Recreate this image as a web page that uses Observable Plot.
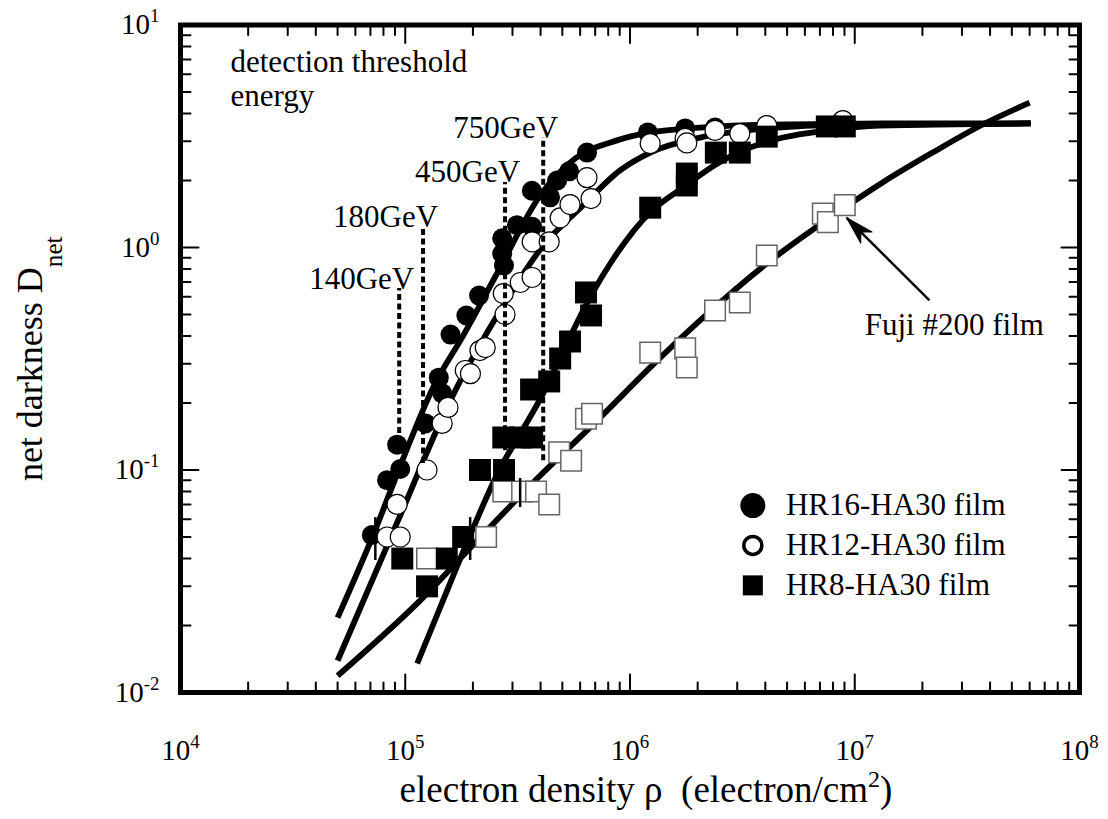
<!DOCTYPE html>
<html>
<head>
<meta charset="utf-8">
<script src="https://cdn.jsdelivr.net/npm/d3@7"></script>
<script src="https://cdn.jsdelivr.net/npm/@observablehq/plot@0.6"></script>
<style>
  html, body { margin: 0; padding: 0; background: #fff; }
  #chart svg { display: block; }
</style>
</head>
<body>
<div id="chart"></div>
<script>
// ---------- data (electron density ρ, net darkness D) ----------
const hr16 = [ // HR16-HA30 film, filled circles
  [7.1e4,0.051],[8.3e4,0.090],[9.2e4,0.130],[9.5e4,0.101],[1.23e5,0.162],[1.41e5,0.26],
  [1.46e5,0.221],[1.59e5,0.406],[1.87e5,0.495],[2.13e5,0.608],[2.70e5,1.10],[2.70e5,0.94],
  [2.75e5,0.83],[3.14e5,1.26],[3.67e5,1.24],[3.66e5,1.80],[4.41e5,1.68],[4.74e5,2.00],
  [5.36e5,2.20],[6.44e5,2.67],[1.20e6,3.29],[1.76e6,3.43],[2.39e6,3.46]
];
const hr12 = [ // HR12-HA30 film, open circles
  [8.3e4,0.050],[9.5e4,0.050],[9.2e4,0.070],[1.25e5,0.100],[1.46e5,0.162],[1.55e5,0.191],
  [1.85e5,0.280],[1.95e5,0.271],[2.15e5,0.344],[2.27e5,0.355],[2.73e5,0.621],[2.78e5,0.500],
  [3.25e5,0.696],[3.67e5,0.733],[3.67e5,1.06],[4.37e5,1.06],[4.89e5,1.36],[5.41e5,1.56],
  [6.44e5,2.06],[6.71e5,1.66],[1.23e6,2.93],[1.76e6,3.09],[1.79e6,2.95],[2.39e6,3.36],
  [3.08e6,3.25],[4.06e6,3.53],[8.85e6,3.72]
];
const hr8 = [ // HR8-HA30 film, filled squares
  [9.7e4,0.040],[1.25e5,0.030],[1.53e5,0.040],[1.81e5,0.050],[2.15e5,0.100],[2.75e5,0.100],
  [2.73e5,0.140],[3.25e5,0.140],[3.67e5,0.140],[3.63e5,0.230],[4.37e5,0.250],[4.89e5,0.317],
  [5.41e5,0.378],[6.71e5,0.495],[6.37e5,0.628],[1.23e6,1.51],[1.79e6,2.15],[1.79e6,1.90],
  [2.41e6,2.67],[3.08e6,2.67],[4.06e6,3.15],[7.51e6,3.50],[9.03e6,3.50]
];
const fuji = [ // Fuji #200 film, open squares
  [1.25e5,0.040],[2.29e5,0.050],[2.73e5,0.080],[3.31e5,0.080],[3.82e5,0.080],[4.37e5,0.070],
  [4.84e5,0.120],[5.47e5,0.110],[6.37e5,0.170],[6.78e5,0.179],[1.23e6,0.337],[1.76e6,0.352],
  [1.79e6,0.289],[2.39e6,0.521],[3.08e6,0.566],[4.06e6,0.921],[7.21e6,1.42],[7.59e6,1.30],
  [9.03e6,1.55]
];
const curveHR16 = [
  [5.0e4,0.0217],[7.2e4,0.051],[1.01e5,0.122],[1.33e5,0.235],[1.81e5,0.402],[2.56e5,0.764],
  [3.98e5,1.71],[5.70e5,2.51],[8.75e5,3.03],[1.23e6,3.29],[2.05e6,3.46],[4.06e6,3.57],
  [1.585e7,3.61],[6.06e7,3.61]
];
const curveHR12 = [
  [5.0e4,0.0139],[9.21e4,0.0581],[1.585e5,0.205],[2.73e5,0.549],[4.11e5,1.02],[6.18e5,1.545],
  [9.03e5,2.22],[1.23e6,2.67],[2.05e6,3.12],[4.06e6,3.43],[9.5e6,3.57],[6.06e7,3.61]
];
const curveHR8 = [
  [1.13e5,0.0135],[1.43e5,0.0241],[1.985e5,0.0535],[2.64e5,0.1015],[3.31e5,0.150],[4.11e5,0.221],
  [5.19e5,0.363],[6.64e5,0.596],[8.75e5,0.940],[1.23e6,1.44],[1.72e6,1.86],[2.44e6,2.38],
  [3.42e6,2.81],[4.79e6,3.12],[7.51e6,3.36],[1.29e7,3.53],[6.06e7,3.61]
];
const curveFuji = [
  [5.0e4,0.0119],[1.20e5,0.0267],[2.05e5,0.0472],[3.71e5,0.0878],[7.36e5,0.172],[1.23e6,0.289],
  [2.05e6,0.470],[4.06e6,0.847],[7.99e6,1.39],[1.33e7,1.96],[2.22e7,2.67],[3.71e7,3.57],[6.0e7,4.48]
];
const errorBars = [ // x, y low, y high
  [7.36e4,0.0392,0.0611],[1.945e5,0.0392,0.0611],[3.245e5,0.0678,0.0916]
];
const thresholds = [
  {label:"140GeV", x:9.4e4,  y1:0.146, y2:0.654},
  {label:"180GeV", x:1.20e5, y1:0.107, y2:1.23},
  {label:"450GeV", x:2.78e5, y1:0.122, y2:1.96},
  {label:"750GeV", x:4.11e5, y1:0.110, y2:3.12}
];
const legendItems = [
  {label:"HR16-HA30 film", x:3.52e6, tx:4.94e6, y:0.0692},
  {label:"HR12-HA30 film", x:3.52e6, tx:4.94e6, y:0.0458},
  {label:"HR8-HA30 film",  x:3.52e6, tx:4.94e6, y:0.0303}
];
const fujiLabel = [{label:"Fuji #200 film", x:1.108e7, y:0.446}];
const fujiArrow = [{x1:2.15e7, y1:0.578, x2:9.2e6, y2:1.36}];
const xTicks = [1e4,1e5,1e6,1e7,1e8];
const xTickLabels = ["10^{4}","10^{5}","10^{6}","10^{7}","10^{8}"];
const yTicks = [1e-2,1e-1,1e0,1e1];
const yTickLabels = ["10^{-2}","10^{-1}","10^{0}","10^{1}"];
const xTitle = "electron density ρ  (electron/cm^{2})";
const yTitle = "net darkness D_{net}";
const noteText = "detection threshold\nenergy";

// minor tick positions (2..9 × decade)
const minorOf = (lo, hi) => { const a = []; for (let k = lo; k < hi; k++) for (let m = 2; m <= 9; m++) a.push(m * Math.pow(10, k)); return a; };
const xMinor = minorOf(4, 8);
const yMinor = minorOf(-2, 1);

const tickShape = {draw(ctx, l) { ctx.moveTo(0, 0); ctx.lineTo(0, -l); }};
const headShape = {draw(ctx, l) { ctx.moveTo(0, 0); ctx.lineTo(-8, -l); ctx.lineTo(0, -l * 0.72); ctx.lineTo(8, -l); ctx.closePath(); }};

const serif = "'Liberation Serif', 'Times New Roman', Times, serif";
const F = 31;

const tickMarks = [];
for (const [arr, len] of [[xTicks, 18], [xMinor, 10]]) {
  tickMarks.push(Plot.vector(arr, {x: d => d, frameAnchor: "bottom", rotate: 0, length: len, anchor: "start", shape: tickShape, strokeWidth: 2}));
  tickMarks.push(Plot.vector(arr, {x: d => d, frameAnchor: "top", rotate: 180, length: len, anchor: "start", shape: tickShape, strokeWidth: 2}));
}
for (const [arr, len] of [[yTicks, 18], [yMinor, 10]]) {
  tickMarks.push(Plot.vector(arr, {y: d => d, frameAnchor: "left", rotate: 90, length: len, anchor: "start", shape: tickShape, strokeWidth: 2}));
  tickMarks.push(Plot.vector(arr, {y: d => d, frameAnchor: "right", rotate: -90, length: len, anchor: "start", shape: tickShape, strokeWidth: 2}));
}

const px = d => d[0], py = d => d[1];
const lineOpts = {x: px, y: py, stroke: "black", strokeWidth: 5.8, curve: "monotone-x", strokeLinecap: "butt"};

const svg = Plot.plot({
  width: 1108,
  height: 819,
  marginLeft: 180,
  marginRight: 29,
  marginTop: 24.5,
  marginBottom: 127,
  x: {type: "log", domain: [1e4, 1e8], axis: null},
  y: {type: "log", domain: [1e-2, 10], axis: null},
  style: {fontFamily: serif, background: "white", color: "black"},
  marks: [
    Plot.line(curveFuji, lineOpts),
    Plot.line(curveHR8, lineOpts),
    Plot.line(curveHR12, lineOpts),
    Plot.line(curveHR16, lineOpts),
    Plot.dot(hr16, {x: px, y: py, r: 10, fill: "black"}),
    Plot.dot(hr12, {x: px, y: py, r: 10, fill: "white", stroke: "black", strokeWidth: 1.2}),
    Plot.dot(fuji, {x: px, y: py, r: 11.6, symbol: "square", fill: "white", stroke: "#666", strokeWidth: 1.5}),
    Plot.dot(hr8, {x: px, y: py, r: 12.4, symbol: "square", fill: "black"}),
    Plot.ruleX(errorBars, {x: d => d[0], y1: d => d[1], y2: d => d[2], strokeWidth: 2.5}),
    Plot.ruleX(thresholds, {x: "x", y1: "y1", y2: "y2", strokeWidth: 4, strokeDasharray: "6,3.5"}),
    Plot.text(thresholds, {x: "x", y: "y2", text: "label", textAnchor: "end", lineAnchor: "bottom", dx: 15, dy: 0, fontSize: F}),
    Plot.text([noteText], {frameAnchor: "top-left", dx: 50, dy: 23, lineAnchor: "top", textAnchor: "start", lineHeight: 1.1, fontSize: F}),
    // Fuji annotation
    Plot.link(fujiArrow, {x1: "x1", y1: "y1", x2: "x2", y2: "y2", strokeWidth: 2.5}),
    Plot.vector(fujiArrow, {x: "x2", y: "y2", rotate: 135, length: 28, anchor: "start", shape: headShape, fill: "black", stroke: "black", strokeWidth: 1}),
    Plot.text(fujiLabel, {x: "x", y: "y", text: "label", textAnchor: "start", lineAnchor: "middle", fontSize: F}),
    // legend
    Plot.dot(legendItems.slice(0, 1), {x: "x", y: "y", r: 12.5, fill: "black"}),
    Plot.dot(legendItems.slice(1, 2), {x: "x", y: "y", r: 9, fill: "white", stroke: "black", strokeWidth: 3.5}),
    Plot.dot(legendItems.slice(2, 3), {x: "x", y: "y", r: 11.3, symbol: "square", fill: "black"}),
    Plot.text(legendItems, {x: "tx", y: "y", text: "label", textAnchor: "start", lineAnchor: "middle", fontSize: F}),
    // frame, ticks
    Plot.frame({stroke: "black", strokeWidth: 5}),
    ...tickMarks,
    // tick labels
    Plot.text(xTicks, {x: d => d, frameAnchor: "bottom", text: (d, i) => xTickLabels[i], dy: 58, lineAnchor: "middle", textAnchor: "middle", fontSize: 29}),
    Plot.text(yTicks, {y: d => d, frameAnchor: "left", text: (d, i) => yTickLabels[i], dx: -21, lineAnchor: "middle", textAnchor: "end", fontSize: 29}),
    // axis titles
    Plot.text([xTitle], {frameAnchor: "bottom", dx: 16, dy: 98, lineAnchor: "middle", textAnchor: "middle", fontSize: 37}),
    Plot.text([yTitle], {frameAnchor: "left", rotate: -90, dx: -150, lineAnchor: "middle", textAnchor: "middle", fontSize: 36})
  ]
});

document.getElementById("chart").appendChild(svg);

// convert ^{..} and _{..} markup into real superscript / subscript tspans
d3.select(svg).selectAll("text").each(function() {
  const el = d3.select(this);
  if (el.selectAll("tspan").size()) return;
  const s = el.text();
  if (!/[\^_]\{/.test(s)) return;
  const fs = parseFloat(getComputedStyle(this).fontSize) || 28;
  el.text(null);
  const re = /([\^_])\{([^}]*)\}/g;
  let last = 0, m, cur = 0;
  const add = (txt, off, scale) => {
    if (!txt) return;
    const ts = el.append("tspan").text(txt);
    if (off !== cur) { ts.attr("dy", off - cur); cur = off; }
    if (scale !== 1) ts.attr("font-size", fs * scale);
  };
  while ((m = re.exec(s))) {
    add(s.slice(last, m.index), 0, 1);
    if (m[1] === "^") add(m[2], -0.42 * fs, 0.65);
    else add(m[2], 0.55 * fs, 0.7);
    last = re.lastIndex;
  }
  add(s.slice(last), 0, 1);
});
</script>
</body>
</html>
